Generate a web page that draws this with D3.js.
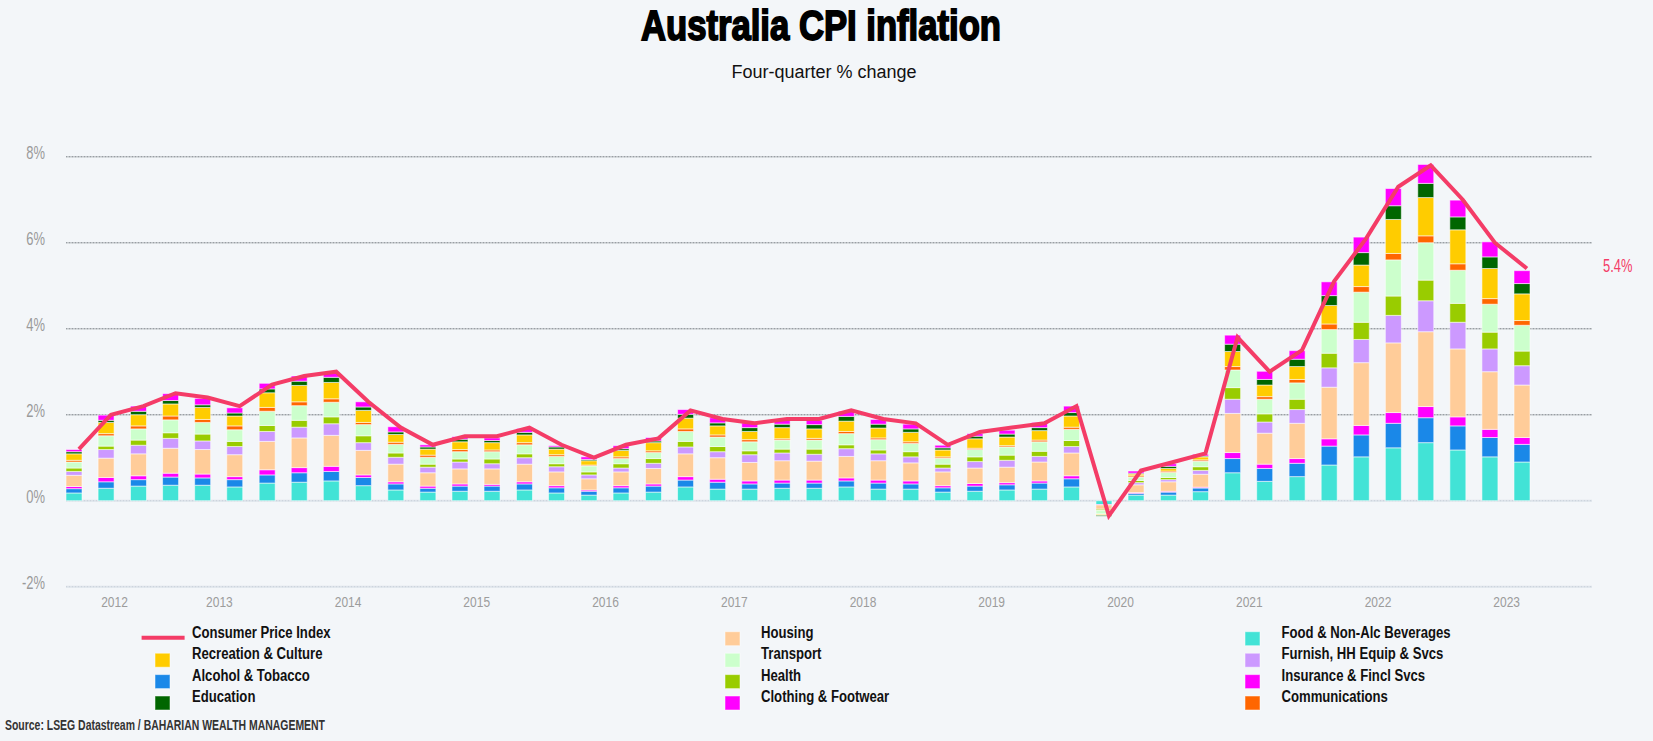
<!DOCTYPE html>
<html>
<head>
<meta charset="utf-8">
<script src="https://cdn.jsdelivr.net/npm/d3@7/dist/d3.min.js"></script>
<style>
  html, body { margin: 0; padding: 0; background: #f3f6f9; }
  svg { display: block; }
</style>
</head>
<body>
<svg id="chart" width="1653" height="741"></svg>
<script>
// ---------------- DATA ----------------
const quarters = [
  "2012Q2","2012Q3","2012Q4","2013Q1","2013Q2","2013Q3","2013Q4","2014Q1","2014Q2","2014Q3",
  "2014Q4","2015Q1","2015Q2","2015Q3","2015Q4","2016Q1","2016Q2","2016Q3","2016Q4","2017Q1",
  "2017Q2","2017Q3","2017Q4","2018Q1","2018Q2","2018Q3","2018Q4","2019Q1","2019Q2","2019Q3",
  "2019Q4","2020Q1","2020Q2","2020Q3","2020Q4","2021Q1","2021Q2","2021Q3","2021Q4","2022Q1",
  "2022Q2","2022Q3","2022Q4","2023Q1","2023Q2","2023Q3"
];
const cpi = [1.2,2.0,2.2,2.5,2.4,2.2,2.7,2.9,3.0,2.3,
  1.7,1.3,1.5,1.5,1.7,1.3,1.0,1.3,1.45,2.1,
  1.9,1.8,1.9,1.9,2.1,1.9,1.8,1.3,1.6,1.7,
  1.8,2.2,-0.35,0.7,0.9,1.1,3.8,3.0,3.5,5.1,
  6.1,7.3,7.8,7.0,6.0,5.4];

const food = [.18,.29,.34,.36,.36,.32,.41,.43,.46,.35,.25,.20,.22,.22,.25,.18,.13,.18,.20,.32,.27,.27,.29,.29,.32,.27,.27,.20,.22,.25,.27,.32,-.09,.13,.13,.21,.65,.45,.56,.83,1.02,1.23,1.35,1.18,1.02,.90];
const alcohol = [.10,.15,.15,.19,.17,.17,.19,.22,.22,.19,.14,.09,.12,.12,.14,.12,.09,.12,.14,.16,.16,.12,.12,.12,.14,.14,.12,.10,.12,.12,.14,.19,0,.04,.07,.085,.33,.30,.31,.44,.51,.57,.58,.56,.45,.41];
const clothing = [.05,.10,.09,.09,.09,.07,.12,.12,.12,.06,.05,.05,.05,.04,.05,.05,.03,.05,.05,.08,.07,.07,.07,.07,.07,.07,.07,.05,.06,.05,.05,.07,-.01,.02,.02,.02,.14,.10,.11,.17,.22,.25,.26,.21,.19,.16];
const housing = [.26,.45,.51,.58,.57,.51,.66,.69,.72,.57,.41,.31,.35,.36,.41,.32,.26,.32,.36,.53,.50,.43,.45,.44,.50,.45,.42,.32,.36,.36,.44,.53,-.10,.18,.22,.30,.91,.72,.82,1.20,1.46,1.62,1.74,1.58,1.34,1.22];
const furnish = [.09,.20,.20,.23,.20,.19,.23,.25,.27,.18,.16,.13,.16,.12,.15,.12,.09,.09,.12,.16,.14,.18,.18,.16,.18,.16,.14,.09,.15,.16,.13,.15,0,.05,.05,.09,.33,.26,.32,.45,.54,.64,.72,.62,.53,.45];
const health = [.08,.08,.12,.13,.16,.12,.14,.16,.16,.16,.10,.07,.07,.11,.09,.07,.07,.10,.11,.13,.12,.09,.09,.12,.09,.09,.12,.09,.11,.12,.12,.14,-.03,.05,.05,.085,.27,.19,.24,.34,.40,.45,.48,.44,.39,.34];
const transport = [.14,.24,.26,.30,.27,.27,.33,.34,.34,.26,.20,.16,.17,.17,.21,.17,.14,.12,.14,.23,.22,.21,.21,.21,.26,.24,.19,.14,.17,.19,.22,.26,-.08,.08,.12,.13,.41,.34,.38,.55,.70,.84,.87,.77,.65,.60];
const communications = [.04,.05,.07,.09,.07,.09,.09,.09,.08,.05,.05,.05,.05,.04,.05,.04,.02,.04,.04,.06,.05,.05,.03,.04,.05,.04,.04,.03,.03,.03,.04,.05,-.01,.03,.03,.03,.08,.06,.08,.13,.13,.15,.16,.15,.13,.11];
const recreation = [.15,.26,.26,.28,.28,.23,.34,.38,.38,.28,.18,.14,.18,.17,.18,.13,.10,.15,.19,.25,.21,.19,.26,.22,.24,.23,.22,.16,.22,.20,.22,.26,-.02,.04,.06,.07,.35,.27,.30,.43,.50,.79,.89,.79,.70,.62];
const education = [.05,.05,.08,.08,.06,.07,.09,.10,.12,.08,.06,.05,.06,.05,.06,.05,.03,.04,.04,.09,.07,.09,.08,.10,.11,.09,.08,.05,.06,.07,.07,.08,-.02,.02,.05,.02,.17,.13,.17,.23,.29,.32,.33,.30,.27,.24];
const insurance = [.05,.12,.12,.16,.15,.12,.13,.12,.10,.12,.12,.05,.06,.06,.09,.03,.06,.07,.08,.11,.12,.11,.12,.10,.12,.11,.11,.06,.06,.09,.12,.15,0,.05,.06,.04,.21,.19,.20,.32,.36,.40,.44,.39,.35,.30];

const seriesNames = ["Food & Non-Alc Beverages","Alcohol & Tobacco","Clothing & Footwear","Housing",
  "Furnish, HH Equip & Svcs","Health","Transport","Communications","Recreation & Culture",
  "Education","Insurance & Fincl Svcs"];
const seriesValues = [food, alcohol, clothing, housing, furnish, health, transport,
  communications, recreation, education, insurance];
const seriesColors = ["#42e3d6","#1a88e8","#ff00ff","#ffcc99","#cc99ff","#99cc00","#ccffcc",
  "#ff6600","#ffcc00","#006600","#ff00ff"];
const cpiName = "Consumer Price Index";
const cpiColor = "#f43c67";

const yTicks = [-2, 0, 2, 4, 6, 8];
const yearLabels = [2012,2013,2014,2015,2016,2017,2018,2019,2020,2021,2022,2023];

// legend columns (in the order shown)
const legendCols = [
  [cpiName, "Recreation & Culture", "Alcohol & Tobacco", "Education"],
  ["Housing", "Transport", "Health", "Clothing & Footwear"],
  ["Food & Non-Alc Beverages", "Furnish, HH Equip & Svcs", "Insurance & Fincl Svcs", "Communications"]
];

const titleText = "Australia CPI inflation";
const subtitleText = "Four-quarter % change";
const sourceText = "Source: LSEG Datastream / BAHARIAN WEALTH MANAGEMENT";

// ---------------- SETUP ----------------
const W = 1653, H = 741;
const svg = d3.select("#chart");
const sans = "'Liberation Sans', Arial, sans-serif";

svg.append("rect").attr("width", W).attr("height", H).attr("fill", "#f3f6f9");

// condensed text helper (horizontal squeeze)
function ctext(g, x0, y0, sx) {
  return g.append("text")
    .attr("transform", `translate(${x0},${y0}) scale(${sx},1)`)
    .attr("font-family", sans);
}

// quarter mid-dates
function qMid(q) {
  const y = +q.slice(0, 4), n = +q.slice(5);
  const mids = [[1, 14], [4, 16], [7, 15], [10, 15]];
  return new Date(y, mids[n - 1][0], mids[n - 1][1]);
}
const dates = quarters.map(qMid);

const x = d3.scaleTime().domain([dates[0], dates[dates.length - 1]]).range([74, 1522]);
const y = d3.scaleLinear().domain([-2, 8]).range([586.7, 156.7]);
const gridX0 = 66, gridX1 = 1592;
const barW = 16;

// gridlines
const grid = svg.append("g");
yTicks.forEach(t => {
  const light = t <= 0;
  grid.append("line")
    .attr("x1", gridX0).attr("x2", gridX1)
    .attr("y1", y(t)).attr("y2", y(t))
    .attr("stroke", light ? "#dde3ea" : "#c4c8cc")
    .attr("stroke-width", light ? 2 : 1.5);
  grid.append("line")
    .attr("x1", gridX0).attr("x2", gridX1)
    .attr("y1", y(t)).attr("y2", y(t))
    .attr("stroke", light ? "#c9d1da" : "#8f9499")
    .attr("stroke-width", 1)
    .attr("stroke-dasharray", "1,2");
});

// y labels
const yl = svg.append("g");
yTicks.forEach(t => {
  ctext(yl, 45, y(t) + 2.5, 0.72)
    .attr("text-anchor", "end")
    .attr("font-size", 18)
    .attr("fill", "#9a9a9a")
    .text(t + "%");
});

// year labels
const [d0] = x.domain();
const xl = svg.append("g");
yearLabels.forEach(yr => {
  const s = new Date(yr, 0, 1) < d0 ? d0 : new Date(yr, 0, 1);
  const e = new Date(yr + 1, 0, 1);
  ctext(xl, (x(s) + x(e)) / 2, 606.5, 0.8)
    .attr("text-anchor", "middle")
    .attr("font-size", 15)
    .attr("fill", "#9c9c9c")
    .text(yr);
});

// stacked bars
const table = quarters.map((q, i) => {
  const o = { q, date: dates[i] };
  seriesNames.forEach((s, k) => o[s] = seriesValues[k][i]);
  return o;
});
const stack = d3.stack().keys(seriesNames).offset(d3.stackOffsetDiverging)(table);
const barsG = svg.append("g");
stack.forEach((layer, k) => {
  barsG.append("g").selectAll("rect").data(layer).join("rect")
    .attr("x", d => x(d.data.date) - barW / 2)
    .attr("width", barW)
    .attr("y", d => y(Math.max(d[0], d[1])))
    .attr("height", d => Math.abs(y(d[0]) - y(d[1])))
    .attr("fill", seriesColors[k])
    .attr("stroke", "#ffffff")
    .attr("stroke-opacity", 0.55)
    .attr("stroke-width", 1);
});

// CPI line (plotted slightly after bar centres)
const line = d3.line()
  .x((d, i) => x(d3.timeDay.offset(dates[i], 14)))
  .y(d => y(d));
svg.append("path").datum(cpi)
  .attr("d", line)
  .attr("fill", "none")
  .attr("stroke", cpiColor)
  .attr("stroke-width", 4)
  .attr("stroke-linejoin", "miter");

// last value label
const lastV = cpi[cpi.length - 1];
ctext(svg, 1603, y(lastV) + 3, 0.68)
  .attr("font-size", 19)
  .attr("fill", cpiColor)
  .text(lastV.toFixed(1) + "%");

// title
svg.append("text")
  .attr("x", 821).attr("y", 40)
  .attr("text-anchor", "middle")
  .attr("font-family", sans).attr("font-size", 42).attr("font-weight", "bold")
  .attr("fill", "#000").attr("stroke", "#000").attr("stroke-width", 1.8)
  .attr("textLength", 360).attr("lengthAdjust", "spacingAndGlyphs")
  .text(titleText);

svg.append("text")
  .attr("x", 824).attr("y", 78)
  .attr("text-anchor", "middle")
  .attr("font-family", sans).attr("font-size", 18)
  .attr("fill", "#111")
  .text(subtitleText);

// legend
const colorOf = name => name === cpiName ? cpiColor : seriesColors[seriesNames.indexOf(name)];
const colX = [{ sym: 141.6, sq: 155, tx: 192 }, { sq: 725, tx: 761 }, { sq: 1245, tx: 1281.5 }];
const rowY = [631.7, 653.2, 674.6, 696];
const lg = svg.append("g");
legendCols.forEach((col, c) => {
  col.forEach((name, r) => {
    const cy = rowY[r];
    if (name === cpiName) {
      lg.append("line")
        .attr("x1", colX[c].sym).attr("x2", colX[c].sym + 43)
        .attr("y1", cy + 6).attr("y2", cy + 6)
        .attr("stroke", cpiColor).attr("stroke-width", 4);
    } else {
      lg.append("rect")
        .attr("x", colX[c].sq).attr("y", cy)
        .attr("width", 15).attr("height", 14)
        .attr("fill", colorOf(name))
        .attr("stroke", "#fff").attr("stroke-opacity", 0.5).attr("stroke-width", 1);
    }
    ctext(lg, colX[c].tx, cy + 6, 0.82)
      .attr("font-size", 16).attr("font-weight", "bold")
      .attr("fill", "#111")
      .text(name);
  });
});

// source
svg.append("text")
  .attr("x", 5).attr("y", 730)
  .attr("font-family", sans).attr("font-size", 14).attr("font-weight", "bold")
  .attr("fill", "#333")
  .attr("textLength", 320).attr("lengthAdjust", "spacingAndGlyphs")
  .text(sourceText);
</script>
</body>
</html>
